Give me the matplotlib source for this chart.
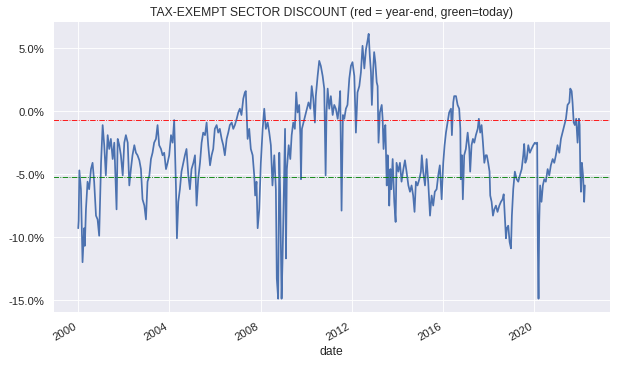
import matplotlib
matplotlib.use("Agg")
import matplotlib.pyplot as plt
import matplotlib.dates as mdates
from matplotlib.ticker import FuncFormatter
import pandas as pd
import seaborn as sns

# decimal year, discount in %
years = [
    2000.00, 2000.02, 2000.05, 2000.12, 2000.19, 2000.26, 2000.29, 2000.34, 2000.41, 2000.48,
    2000.56, 2000.63, 2000.70, 2000.78, 2000.85, 2000.92, 2001.00, 2001.07, 2001.14, 2001.21,
    2001.29, 2001.36, 2001.43, 2001.51, 2001.58, 2001.68, 2001.73, 2001.80, 2001.87, 2001.95,
    2002.02, 2002.09, 2002.17, 2002.24, 2002.31, 2002.38, 2002.46, 2002.53, 2002.60, 2002.68,
    2002.75, 2002.82, 2002.90, 2002.97, 2003.04, 2003.12, 2003.19, 2003.26, 2003.33, 2003.41,
    2003.48, 2003.55, 2003.63, 2003.70, 2003.77, 2003.85, 2003.92, 2003.99, 2004.07, 2004.14,
    2004.21, 2004.29, 2004.33, 2004.39, 2004.46, 2004.53, 2004.61, 2004.68, 2004.75, 2004.83,
    2004.90, 2004.97, 2005.05, 2005.12, 2005.19, 2005.26, 2005.34, 2005.41, 2005.48, 2005.56,
    2005.63, 2005.70, 2005.78, 2005.85, 2005.92, 2005.99, 2006.07, 2006.14, 2006.21, 2006.29,
    2006.36, 2006.43, 2006.51, 2006.58, 2006.65, 2006.73, 2006.80, 2006.87, 2006.95, 2007.02,
    2007.09, 2007.16, 2007.24, 2007.31, 2007.35, 2007.43, 2007.50, 2007.57, 2007.65, 2007.72,
    2007.76, 2007.82, 2007.87, 2007.94, 2008.01, 2008.09, 2008.16, 2008.23, 2008.31, 2008.38,
    2008.45, 2008.52, 2008.60, 2008.67, 2008.71, 2008.77, 2008.82, 2008.86, 2008.92, 2008.96,
    2009.01, 2009.07, 2009.11, 2009.15, 2009.23, 2009.30, 2009.36, 2009.43, 2009.50, 2009.56,
    2009.62, 2009.69, 2009.74, 2009.77, 2009.81, 2009.88, 2009.96, 2010.03, 2010.10, 2010.18,
    2010.24, 2010.31, 2010.38, 2010.42, 2010.50, 2010.57, 2010.64, 2010.72, 2010.79, 2010.85,
    2010.89, 2010.94, 2011.01, 2011.08, 2011.16, 2011.23, 2011.30, 2011.38, 2011.45, 2011.49,
    2011.55, 2011.61, 2011.67, 2011.74, 2011.81, 2011.89, 2011.96, 2012.03, 2012.11, 2012.18,
    2012.25, 2012.33, 2012.40, 2012.47, 2012.55, 2012.62, 2012.69, 2012.74, 2012.79, 2012.84,
    2012.88, 2012.94, 2012.98, 2013.03, 2013.09, 2013.13, 2013.17, 2013.23, 2013.31, 2013.35,
    2013.39, 2013.44, 2013.47, 2013.53, 2013.57, 2013.61, 2013.64, 2013.69, 2013.73, 2013.79,
    2013.86, 2013.92, 2013.96, 2014.04, 2014.11, 2014.18, 2014.26, 2014.33, 2014.40, 2014.48,
    2014.55, 2014.62, 2014.69, 2014.75, 2014.81, 2014.88, 2014.96, 2015.03, 2015.07, 2015.13,
    2015.21, 2015.28, 2015.35, 2015.43, 2015.50, 2015.57, 2015.64, 2015.72, 2015.79, 2015.86,
    2015.94, 2016.01, 2016.07, 2016.13, 2016.20, 2016.27, 2016.35, 2016.39, 2016.45, 2016.49,
    2016.57, 2016.64, 2016.71, 2016.76, 2016.78, 2016.83, 2016.87, 2016.93, 2017.00, 2017.08,
    2017.15, 2017.19, 2017.25, 2017.31, 2017.37, 2017.44, 2017.52, 2017.57, 2017.63, 2017.69,
    2017.75, 2017.81, 2017.87, 2017.92, 2017.98, 2018.04, 2018.07, 2018.13, 2018.19, 2018.25,
    2018.32, 2018.39, 2018.47, 2018.54, 2018.61, 2018.66, 2018.71, 2018.76, 2018.80, 2018.86,
    2018.92, 2018.98, 2019.02, 2019.08, 2019.15, 2019.23, 2019.30, 2019.37, 2019.45, 2019.52,
    2019.56, 2019.61, 2019.67, 2019.74, 2019.81, 2019.88, 2019.96, 2020.03, 2020.09, 2020.13,
    2020.16, 2020.19, 2020.22, 2020.26, 2020.32, 2020.38, 2020.44, 2020.51, 2020.59, 2020.66,
    2020.73, 2020.81, 2020.88, 2020.95, 2021.02, 2021.10, 2021.17, 2021.24, 2021.32, 2021.39,
    2021.46, 2021.54, 2021.58, 2021.64, 2021.68, 2021.73, 2021.78, 2021.84, 2021.90, 2021.96,
    2021.99, 2022.02, 2022.05, 2022.09, 2022.14, 2022.19, 2022.22,
]
discount = [
    -9.3, -8.7, -4.7, -6.2, -12.0, -9.3, -10.7, -7.8, -5.6, -6.2,
    -4.6, -4.1, -5.6, -8.3, -8.6, -9.9, -4.1, -1.1, -2.7, -5.1,
    -1.9, -3.0, -2.2, -3.8, -2.5, -7.8, -2.2, -2.7, -3.5, -5.1,
    -2.5, -1.9, -2.5, -5.9, -4.6, -3.5, -2.7, -3.3, -3.5, -3.9,
    -4.6, -7.0, -7.5, -8.6, -5.6, -5.1, -3.8, -3.3, -2.5, -2.2,
    -1.1, -2.7, -3.0, -3.5, -3.3, -4.6, -4.1, -3.5, -1.9, -2.5,
    -0.7, -6.2, -10.1, -7.2, -6.2, -4.8, -4.1, -3.5, -3.0, -5.1,
    -6.2, -4.6, -4.1, -3.5, -7.5, -5.4, -4.1, -2.5, -1.7, -1.9,
    -0.9, -2.7, -4.3, -3.5, -3.0, -1.4, -1.1, -1.7, -1.4, -2.2,
    -2.7, -3.5, -2.2, -1.7, -1.1, -0.9, -1.4, -1.1, -0.6, -0.1,
    0.2, -0.3, 1.0, 1.5, 1.6, -2.2, -1.4, -3.0, -3.5, -5.1,
    -6.7, -5.6, -9.3, -7.8, -4.1, -1.4, 0.2, -1.4, -0.9, -1.7,
    -2.7, -5.9, -3.5, -6.2, -13.3, -14.9, -3.3, -6.7, -14.9, -12.0,
    -7.2, -1.4, -11.7, -4.6, -2.7, -3.8, -1.9, -0.9, -1.4, 1.5,
    -0.1, 0.5, -1.9, -5.4, -1.4, -0.9, -0.3, 0.2, 0.7, 0.2,
    2.0, 1.0, -0.9, 1.2, 2.8, 4.0, 3.6, 2.8, 1.8, -5.1,
    -0.1, 1.8, 0.2, 1.2, -0.3, 0.5, 0.2, -0.6, 0.5, 1.6,
    -7.9, -0.3, -0.6, 0.2, 0.5, 2.6, 3.6, 3.9, 2.8, -1.7,
    1.5, 2.0, 3.1, 5.2, 3.4, 4.9, 5.6, 6.15, 4.4, 3.1,
    0.5, 3.4, 4.7, 3.9, 2.3, 2.0, -2.5, -0.1, 0.5, -0.6,
    -3.0, -1.4, -1.1, -5.9, -3.5, -5.4, -7.5, -4.6, -6.2, -3.8,
    -7.2, -8.8, -4.1, -4.8, -4.1, -5.6, -4.6, -3.9, -4.8, -5.9,
    -6.4, -5.9, -6.7, -8.0, -5.6, -5.9, -5.4, -4.8, -3.5, -4.8,
    -5.9, -3.8, -5.6, -8.3, -6.7, -7.5, -6.4, -6.2, -5.1, -4.3,
    -7.0, -4.1, -2.7, -1.7, -0.9, -0.1, 0.2, -1.9, 0.7, 1.2,
    1.2, 0.5, 0.2, -1.4, -5.4, -3.5, -7.0, -3.5, -3.0, -1.7,
    -3.0, -4.8, -2.7, -2.2, -2.5, -1.9, -1.4, -0.6, -1.7, -1.1,
    -2.5, -4.1, -3.5, -3.5, -4.1, -4.8, -6.7, -7.2, -8.3, -7.8,
    -7.5, -8.0, -7.5, -7.2, -7.0, -6.6, -8.3, -10.1, -9.3, -9.1,
    -10.4, -10.9, -8.3, -6.2, -4.8, -5.4, -5.6, -5.1, -4.6, -3.5,
    -2.6, -4.1, -3.8, -2.7, -3.3, -3.0, -2.7, -2.5, -2.6, -2.5,
    -10.9, -14.9, -8.8, -5.9, -7.2, -5.9, -5.4, -5.6, -4.6, -5.1,
    -4.3, -3.8, -4.1, -3.5, -2.7, -3.3, -2.2, -1.7, -1.1, -0.6,
    0.5, 0.7, 1.8, 1.6, 0.7, -0.9, -1.1, -0.6, -2.5, -0.6,
    -1.1, -4.8, -6.4, -4.1, -5.1, -7.2, -5.9,
]
year_end = -0.67
today = -5.2


def to_date(y):
    yr = int(y)
    return pd.Timestamp(yr, 1, 1) + pd.Timedelta(days=(y - yr) * 365.25)


s = pd.Series(discount, index=pd.DatetimeIndex([to_date(y) for y in years], name="date"))

sns.set()
plt.rcParams['font.family'] = ['Liberation Sans', 'DejaVu Sans']

fig, ax = plt.subplots(figsize=(10, 5.884), dpi=62.2)

ax.plot(s.index, s.values, color="#4c72b0", lw=2)
ax.axhline(year_end, color="red", ls="-.", lw=1.0)
ax.axhline(today, color="green", ls="-.", lw=1.0)

ax.xaxis.set_major_locator(mdates.YearLocator(4))
ax.xaxis.set_major_formatter(mdates.DateFormatter("%Y"))
ax.yaxis.set_major_formatter(FuncFormatter(lambda v, p: f"{v:.1f}%"))
ax.set_yticks([5, 0, -5, -10, -15])
ax.tick_params(labelsize=13)
ax.set_xlabel("date", fontsize=14)
ax.set_title("TAX-EXEMPT SECTOR DISCOUNT (red = year-end, green=today)", fontsize=14)
fig.autofmt_xdate()
fig.subplots_adjust(left=0.085, right=0.981, top=0.941, bottom=0.145)

fig.savefig("out.png", dpi=62.2)
